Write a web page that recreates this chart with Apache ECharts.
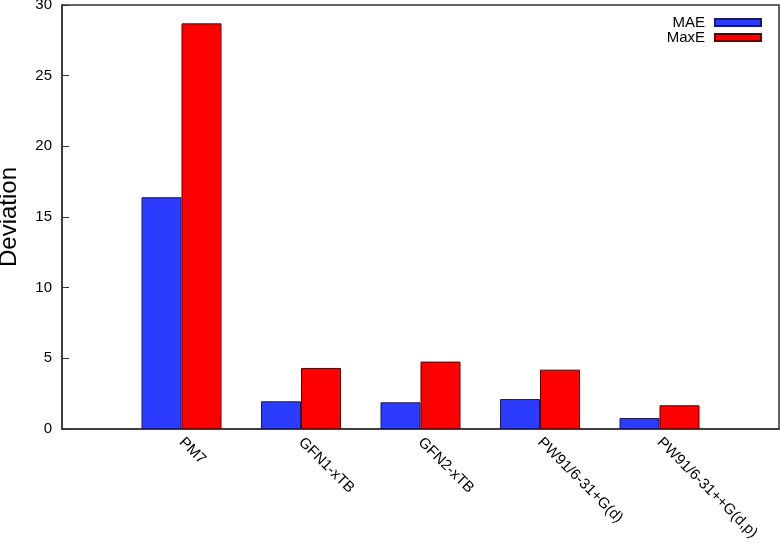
<!DOCTYPE html>
<html>
<head>
<meta charset="utf-8">
<title>Deviation</title>
<script src="https://cdn.jsdelivr.net/npm/echarts@6/dist/echarts.min.js"></script>
<style>
  html, body { margin: 0; padding: 0; background: #fff; }
  #chart { width: 780px; height: 543px; }
</style>
</head>
<body>
<div id="chart"></div>
<script>
// methods on the x axis, one bar pair each
var methods = ['PM7', 'GFN1-xTB', 'GFN2-xTB', 'PW91/6-31+G(d)', 'PW91/6-31++G(d,p)'];
var maeValues = [16.4, 1.96, 1.89, 2.12, 0.78];
var maxeValues = [28.7, 4.32, 4.77, 4.2, 1.68];
var yTicks = [0, 5, 10, 15, 20, 25, 30];

var font = 'Liberation Sans, Arial, Helvetica, sans-serif';

function pairs(values) {
  return values.map(function (v, i) { return [i, v]; });
}

var chart = echarts.init(document.getElementById('chart'));

var option = {
  animation: false,
  textStyle: { fontFamily: font },
  grid: {
    left: 62, right: 1, top: 5, bottom: 114,
    outerBoundsMode: 'none',
    containLabel: false,
    show: true,
    borderColor: '#333',
    borderWidth: 1.5
  },
  legend: {
    orient: 'vertical',
    right: 13,
    top: 10,
    align: 'right',
    itemWidth: 46,
    itemHeight: 7,
    itemGap: 0,
    icon: 'rect',
    textStyle: { fontSize: 15, color: '#000', fontFamily: font, lineHeight: 15, padding: [0, 5, 0, 0] },
    data: ['MAE', 'MaxE']
  },
  xAxis: {
    type: 'value',
    min: -1,
    max: 5,
    interval: 1,
    splitLine: { show: false },
    axisTick: { show: false },
    axisLine: { onZero: false, lineStyle: { color: '#333', width: 1.5 } },
    axisLabel: {
      rotate: -45,
      margin: 11,
      fontSize: 15,
      color: '#000',
      fontFamily: font,
      showMinLabel: false,
      showMaxLabel: false,
      formatter: function (v) {
        return methods[v] !== undefined ? methods[v] : '';
      }
    }
  },
  yAxis: {
    type: 'value',
    min: yTicks[0],
    max: yTicks[yTicks.length - 1],
    interval: yTicks[1] - yTicks[0],
    name: 'Deviation',
    nameLocation: 'middle',
    nameGap: 41,
    nameTextStyle: { fontSize: 24, color: '#000', fontFamily: font },
    splitLine: { show: false },
    axisLine: { show: true, onZero: false, lineStyle: { color: '#333', width: 1.5 } },
    axisTick: { show: true, inside: true, length: 7, lineStyle: { color: '#333' } },
    axisLabel: { fontSize: 15, color: '#000', margin: 10, fontFamily: font }
  },
  series: [
    {
      name: 'MAE',
      type: 'bar',
      barWidth: 40,
      barGap: '0%',
      itemStyle: { color: '#2b3cff', borderColor: '#1a1a60', borderWidth: 1 },
      data: pairs(maeValues)
    },
    {
      name: 'MaxE',
      type: 'bar',
      barWidth: 40,
      barGap: '0%',
      itemStyle: { color: '#ff0000', borderColor: '#600000', borderWidth: 1 },
      data: pairs(maxeValues)
    }
  ]
};

chart.setOption(option);
</script>
</body>
</html>
